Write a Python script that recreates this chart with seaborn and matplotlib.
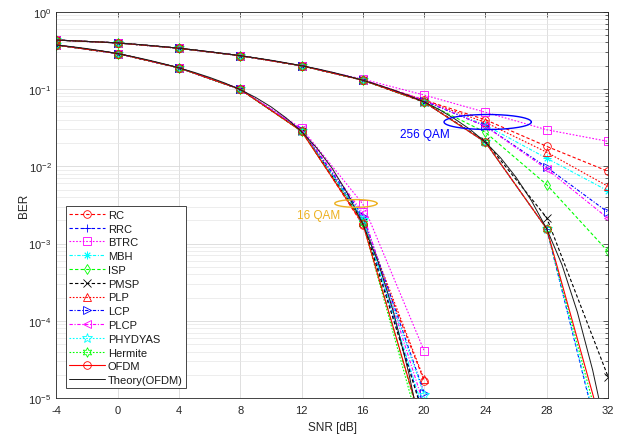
import numpy as np
import pandas as pd
import matplotlib
matplotlib.use("Agg")
import matplotlib.pyplot as plt
import seaborn as sns

# ---------------- data ----------------
snr16 = [-4, 0, 4, 8, 12, 16, 20]
snr256 = [-4, 0, 4, 8, 12, 16, 20, 24, 28, 32]

names = ["RC", "RRC", "BTRC", "MBH", "ISP", "PMSP", "PLP", "LCP", "PLCP",
         "PHYDYAS", "Hermite", "OFDM"]

# 16-QAM BER per waveform
ber16_RC      = [0.371, 0.288, 0.188, 0.099, 0.0290, 1.74e-3, 1.68e-5]
ber16_RRC     = [0.371, 0.288, 0.188, 0.099, 0.0290, 2.10e-3, 6.0e-6]
ber16_BTRC    = [0.371, 0.288, 0.188, 0.100, 0.0310, 3.25e-3, 4.1e-5]
ber16_MBH     = [0.371, 0.288, 0.188, 0.099, 0.0295, 2.15e-3, 6.5e-6]
ber16_ISP     = [0.371, 0.288, 0.188, 0.099, 0.0285, 1.90e-3, 3.3e-6]
ber16_PMSP    = [0.371, 0.288, 0.188, 0.099, 0.0288, 1.90e-3, 5.6e-6]
ber16_PLP     = [0.371, 0.288, 0.188, 0.099, 0.0292, 2.00e-3, 1.75e-5]
ber16_LCP     = [0.371, 0.288, 0.188, 0.099, 0.0298, 2.30e-3, 1.17e-5]
ber16_PLCP    = [0.371, 0.288, 0.188, 0.100, 0.0300, 2.50e-3, 8.0e-6]
ber16_PHYDYAS = [0.371, 0.288, 0.188, 0.099, 0.0288, 2.00e-3, 1.1e-5]
ber16_Hermite = [0.371, 0.288, 0.188, 0.099, 0.0283, 1.85e-3, 2.5e-6]
ber16_OFDM    = [0.371, 0.288, 0.188, 0.099, 0.0284, 1.80e-3, 3.6e-6]

# 256-QAM BER per waveform
ber256_RC      = [0.43, 0.395, 0.337, 0.27, 0.200, 0.131, 0.072, 0.040, 0.0181, 8.6e-3]
ber256_RRC     = [0.43, 0.395, 0.337, 0.27, 0.200, 0.130, 0.068, 0.0205, 1.55e-3, 1.0e-6]
ber256_BTRC    = [0.43, 0.395, 0.337, 0.27, 0.201, 0.134, 0.0836, 0.050, 0.0297, 0.021]
ber256_MBH     = [0.43, 0.395, 0.337, 0.27, 0.200, 0.131, 0.070, 0.034, 0.0127, 4.8e-3]
ber256_ISP     = [0.43, 0.395, 0.337, 0.27, 0.200, 0.130, 0.068, 0.0275, 5.78e-3, 7.9e-4]
ber256_PMSP    = [0.43, 0.395, 0.337, 0.27, 0.200, 0.130, 0.068, 0.021, 2.16e-3, 1.9e-5]
ber256_PLP     = [0.43, 0.395, 0.337, 0.27, 0.200, 0.131, 0.071, 0.037, 0.0152, 5.5e-3]
ber256_LCP     = [0.43, 0.395, 0.337, 0.27, 0.200, 0.131, 0.070, 0.033, 9.7e-3, 2.54e-3]
ber256_PLCP    = [0.43, 0.395, 0.337, 0.27, 0.200, 0.131, 0.072, 0.033, 9.2e-3, 2.12e-3]
ber256_PHYDYAS = [0.43, 0.395, 0.337, 0.27, 0.200, 0.130, 0.068, 0.0205, 1.55e-3, 1.1e-6]
ber256_Hermite = [0.43, 0.395, 0.337, 0.27, 0.200, 0.130, 0.068, 0.0205, 1.55e-3, 1.6e-6]
ber256_OFDM    = [0.43, 0.395, 0.337, 0.27, 0.200, 0.130, 0.068, 0.0205, 1.55e-3, 2.2e-6]

# Theory (OFDM) curves, read at 1 dB steps
snr_th16 = list(range(-4, 21))
ber_th16 = [0.3712, 0.3532, 0.3331, 0.3110, 0.2873, 0.2625, 0.2372, 0.2122,
            0.1877, 0.1642, 0.1414, 0.1195, 0.0981, 0.0779, 0.0590, 0.0422,
            0.0282, 0.0172, 9.4e-3, 4.46e-3, 1.79e-3, 5.8e-4, 1.3e-4, 2.1e-5,
            2.4e-6]
snr_th256 = list(range(-4, 33))
ber_th256 = [0.430, 0.422, 0.413, 0.404, 0.395, 0.382, 0.368, 0.353, 0.337,
             0.321, 0.304, 0.287, 0.270, 0.253, 0.236, 0.218, 0.200, 0.183,
             0.165, 0.147, 0.130, 0.113, 0.097, 0.082, 0.068, 0.054, 0.041,
             0.030, 0.0205, 0.0128, 7.2e-3, 3.6e-3, 1.55e-3, 5.3e-4, 1.3e-4,
             2.3e-5, 2.8e-6]

xticks = [-4, 0, 4, 8, 12, 16, 20, 24, 28, 32]

# ---------------- styles ----------------
R, B, M, C, G, K = "#ff0000", "#0000ff", "#ff00ff", "#00ffff", "#00ff00", "#000000"
styles = {
    "RC":      dict(color=R, ls=(0, (3, 2)), marker="o"),
    "RRC":     dict(color=B, ls=(0, (3, 2)), marker="+"),
    "BTRC":    dict(color=M, ls=(0, (1.5, 1.5)), marker="s"),
    "MBH":     dict(color=C, ls=(0, (3, 1.5, 1, 1.5)), marker=(8, 2, 0)),
    "ISP":     dict(color=G, ls=(0, (3, 2)), marker="d"),
    "PMSP":    dict(color=K, ls=(0, (3, 2)), marker="x"),
    "PLP":     dict(color=R, ls=(0, (1.5, 1.5)), marker="^"),
    "LCP":     dict(color=B, ls=(0, (3, 1.5, 1, 1.5)), marker=">"),
    "PLCP":    dict(color=M, ls=(0, (3, 1.5, 1, 1.5)), marker="<"),
    "PHYDYAS": dict(color=C, ls=(0, (1.5, 1.5)), marker="*"),
    "Hermite": dict(color=G, ls=(0, (1.5, 1.5)), marker=(6, 1, 0)),
    "OFDM":    dict(color=R, ls="-", marker="o"),
}

sns.set_theme(style="white")
plt.rcParams["font.family"] = ["Liberation Sans", "DejaVu Sans"]
plt.rcParams["mathtext.fontset"] = "custom"
plt.rcParams["mathtext.rm"] = "Liberation Sans"
plt.rcParams["mathtext.it"] = "Liberation Sans:italic"

fig = plt.figure(figsize=(6.23, 4.39), dpi=100)
ax = fig.add_axes([0.0904, 0.091, 0.8855, 0.880])

g = globals()
for nm in names:
    st = styles[nm]
    msz = 7 if st["marker"] in ("*", (6, 1, 0)) else 5.5
    common = dict(color=st["color"], linestyle=st["ls"], marker=st["marker"],
                  markersize=msz, markerfacecolor="none",
                  markeredgecolor=st["color"], markeredgewidth=0.6,
                  linewidth=0.8, ax=ax, errorbar=None, sort=False)
    sns.lineplot(x=snr16, y=g["ber16_" + nm], label=nm, **common)
    sns.lineplot(x=snr256, y=g["ber256_" + nm], label="_nolegend_", **common)

sns.lineplot(x=snr_th16, y=ber_th16, color="k", linewidth=0.7, ax=ax,
             label="Theory(OFDM)", errorbar=None)
sns.lineplot(x=snr_th256, y=ber_th256, color="k", linewidth=0.7, ax=ax,
             label="_nolegend_", errorbar=None)

# ---------------- annotations ----------------
t = np.linspace(0, 2 * np.pi, 200)
def ell(cx, cy, a, b, col):
    ax.plot(cx + a * np.cos(t), 10 ** (np.log10(cy) + b * np.sin(t)),
            color=col, lw=1.0, zorder=5)
ell(24.15, 0.0374, 2.85, 0.097, "#0000ff")
ell(15.55, 3.3e-3, 1.38, 0.05, (0.929, 0.694, 0.125))
ax.text(20.05, 0.0262, "256 QAM", color="#0000ff", fontsize=8.5,
        ha="center", va="center")
ax.text(13.1, 2.34e-3, "16 QAM", color=(0.929, 0.694, 0.125), fontsize=8.5,
        ha="center", va="center")

# ---------------- axes ----------------
ax.set_yscale("log")
ax.set_xlim(-4, 32)
ax.set_ylim(1e-5, 1)
ax.set_xticks(xticks)
ax.set_xticklabels([str(v) for v in xticks])
ax.grid(True, which="major", color="0.85", linewidth=0.6)
ax.grid(True, which="minor", axis="y", color="0.9", linewidth=0.5)
ax.tick_params(which="both", direction="in", top=True, right=True,
               colors="0.15", labelsize=8, length=3.5, width=0.5)
ax.tick_params(which="minor", length=2)
ax.tick_params(axis="x", pad=5)
for sp in ax.spines.values():
    sp.set_color("0.15")
    sp.set_linewidth(0.6)
ax.set_xlabel("SNR [dB]", fontsize=8.5, color="0.15", labelpad=4)
ax.set_ylabel("BER", fontsize=8.5, color="0.15")
ax.yaxis.set_label_coords(-0.0486, 0.5)

leg = ax.legend(loc="lower left", bbox_to_anchor=(0.017, 0.025), fontsize=8,
                frameon=True, fancybox=False, edgecolor="0.15",
                framealpha=1, handlelength=3.2, handletextpad=0.3,
                labelspacing=0.34, borderpad=0.3, borderaxespad=0.0)
leg.get_frame().set_linewidth(0.6)
for txt in leg.get_texts():
    txt.set_color("0.1")

fig.savefig("out.png", dpi=100)
